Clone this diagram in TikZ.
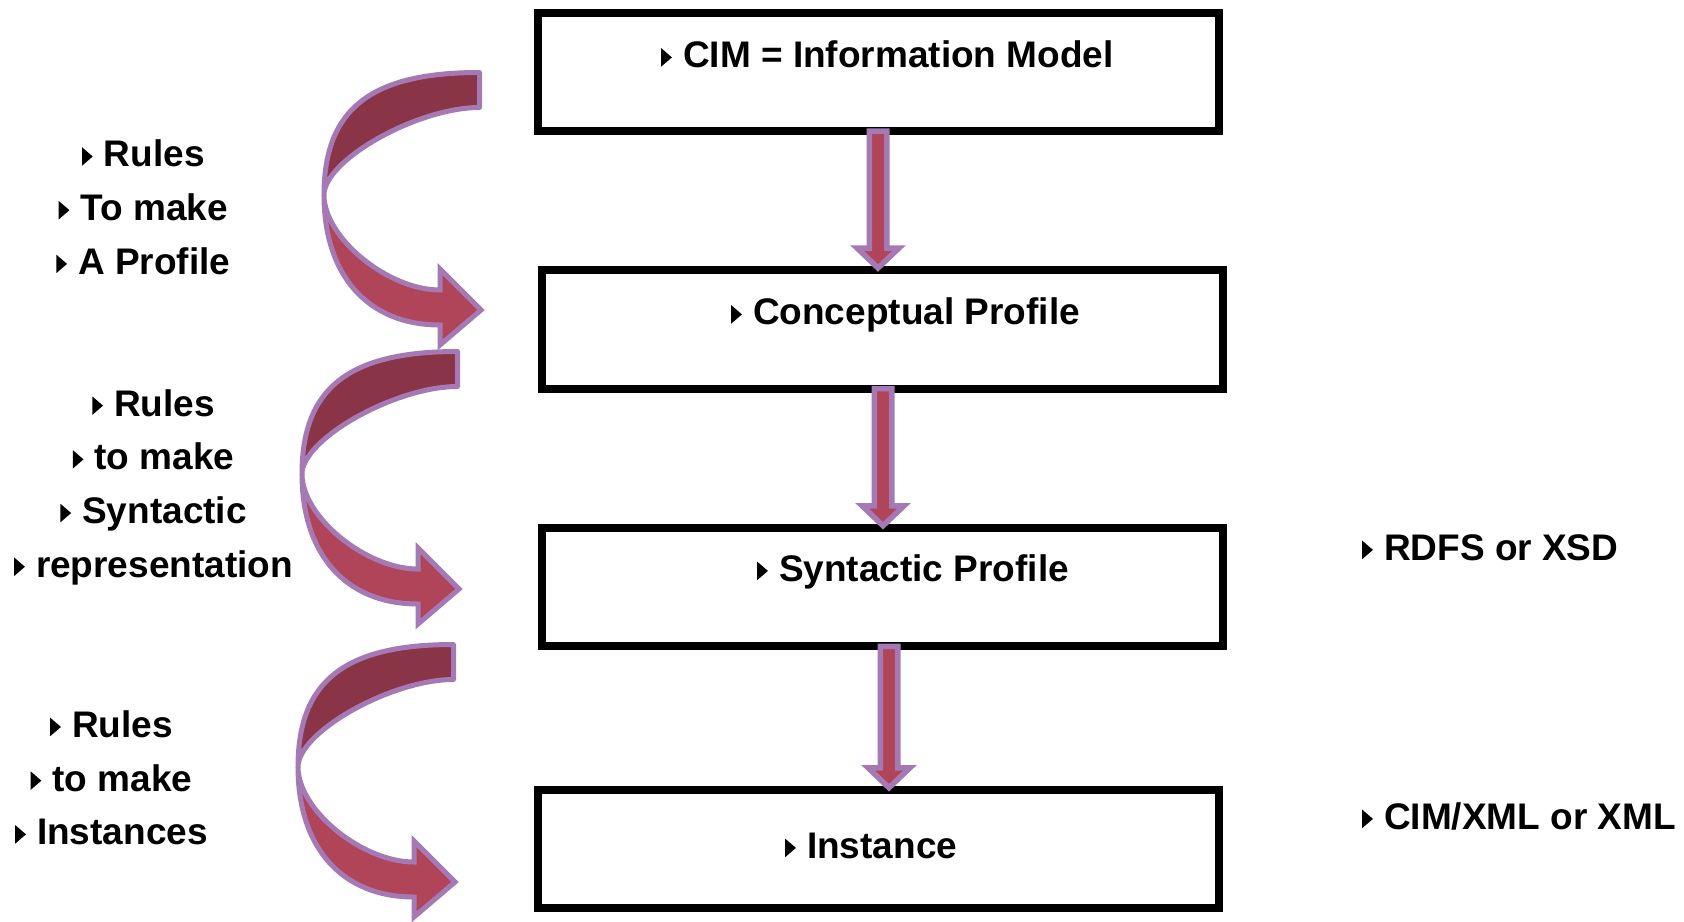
\documentclass[tikz,border=0pt]{standalone}
\usepackage{fontspec}
\setmainfont{Liberation Sans}
\usetikzlibrary{calc}

\definecolor{bandlight}{HTML}{B04459}
\definecolor{banddark}{HTML}{8A3447}
\definecolor{rim}{HTML}{A57AB4}

% small black bullet triangle in front of every text line
\newcommand\bul{\tikz[baseline=0pt]\fill[black,draw=none] (0,0.03em) -- (0,0.53em) -- (0.29em,0.28em) -- cycle;\hspace{0.3em}}

% straight downward block arrow from #1 to #2
\newcommand\flowdown[2]{%
  \draw[flow] ($(#1)+(-8.75,0)$) -- ($(#2)+(-8.75,-22)$) -- ($(#2)+(-21,-22)$)
    -- ($(#2)+(0,-2)$) -- ($(#2)+(21,-22)$) -- ($(#2)+(8.75,-22)$)
    -- ($(#1)+(8.75,0)$) -- cycle;}

\begin{document}
\begin{tikzpicture}[x=1pt,y=-1pt,
  box/.style={draw=black, line width=8pt, minimum width=681pt, minimum height=118.5pt,
    inner sep=0pt, outer sep=0pt},
  label/.style={font=\fontsize{37}{44}\selectfont\bfseries, inner sep=0pt, anchor=base west},
  side/.style={font=\fontsize{37}{44}\selectfont\bfseries, inner sep=0pt, anchor=base},
  flow/.style={draw=rim, line width=5.5pt, fill=bandlight, line join=miter},
  bandback/.style={draw=rim, line width=5pt, fill=banddark, line join=round},
  bandfront/.style={draw=rim, line width=5pt, fill=bandlight, line join=miter, miter limit=4},
  curvedflow/.pic={
    \draw[bandback] (155.5,-122.5) .. controls (46.6,-122.5) and (0,-86) .. (0,0)
      .. controls (0,-35) and (93.3,-87.5) .. (155.5,-87.5) -- cycle;
    \draw[bandfront] (0,0) .. controls (0,80.6) and (44,130) .. (116,130)
      -- (116,150) -- (157,115) -- (116,74) -- (116,95)
      .. controls (63.8,95) and (0,42.75) .. (0,0) -- cycle;
  }]
\fill[white] (0,0) rectangle (1684,921);
\useasboundingbox (0,0) rectangle (1684,921);

% the four stages
\node[box] (b1) at (878.5,71.75) {};
\node[box] (b2) at (882.75,329.25) {};
\node[box] (b3) at (882.5,587) {};
\node[box] (b4) at (878,849) {};

\node[label] (t1) at (661,67.75) {\bul CIM = Information Model};
\node[label] (t2) at (731,324.75) {\bul Conceptual Profile};
\node[label] (t3) at (757,581.25) {\bul Syntactic Profile};
\node[label] (t4) at (785,858.25) {\bul Instance};

% stage-to-stage arrows
\coordinate (d1a) at ($(b1.south)+(-0.5,0)$);  \coordinate (d1b) at (d1a |- b2.north);
\coordinate (d2a) at ($(b2.south)+(0.25,0)$);  \coordinate (d2b) at (d2a |- b3.north);
\coordinate (d3a) at ($(b3.south)+(6.5,0)$);   \coordinate (d3b) at (d3a |- b4.north);
\flowdown{d1a}{d1b}
\flowdown{d2a}{d2b}
\flowdown{d3a}{d3b}

% curved rule arrows on the left
\pic at (324,195) {curvedflow};
\pic at (302,474) {curvedflow};
\pic at (298,767) {curvedflow};

% rule texts
\foreach \t [count=\i] in {Rules,To make,A Profile}
  \node[side] (ra\i) at (143.3,{166.85+(\i-1)*53.7}) {\bul\t};
\foreach \t [count=\i] in {Rules,to make,Syntactic,representation}
  \node[side] (rb\i) at (153.6,{416+(\i-1)*53.7}) {\bul\t};
\foreach \t [count=\i] in {Rules,to make,Instances}
  \node[side] (rc\i) at (111.5,{737.3+(\i-1)*53.7}) {\bul\t};

% formats on the right
\node[label] (f1) at (1362,560.25) {\bul RDFS or XSD};
\node[label] (f2) at (1362,829.25) {\bul CIM/XML or XML};
\end{tikzpicture}
\end{document}
